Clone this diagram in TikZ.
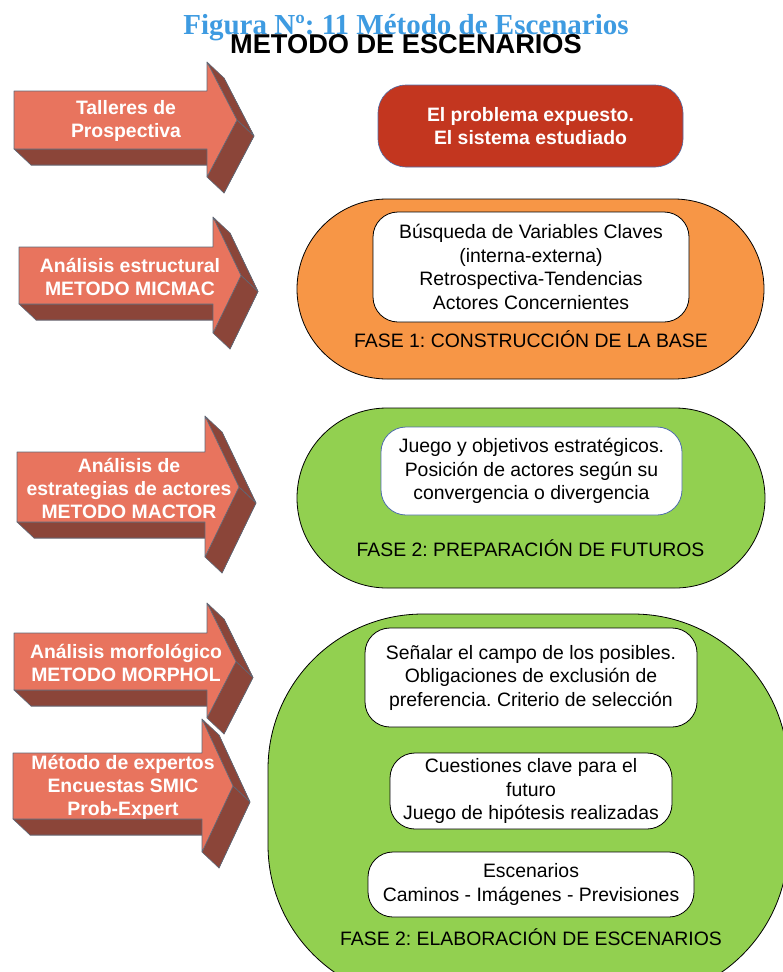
\documentclass[tikz,border=0pt]{standalone}
\usepackage{fontspec}
\setmainfont{Liberation Sans}
\newfontfamily\captionserif{Liberation Serif}
\frenchspacing

\definecolor{arrowred}{RGB}{232,116,94}
\definecolor{arrowdark}{RGB}{139,69,57}
\definecolor{edgegray}{RGB}{95,105,120}
\definecolor{probred}{RGB}{195,54,31}
\definecolor{faseorange}{RGB}{247,150,70}
\definecolor{fasegreen}{RGB}{146,208,80}
\definecolor{titleblue}{RGB}{62,155,225}
\definecolor{boxblue}{RGB}{79,110,170}

% 3D block arrow: left x, body top, body bottom, head x, head top, head bottom, tip x
\newcommand{\proarrow}[7]{%
  \pgfmathsetmacro{\tipy}{(#2+#3)/2}
  \filldraw[side] ({#1+17},{#2+16}) -- ({#4+17},{#2+16}) -- ({#4+17},{#5+16}) -- ({#7+17},{\tipy+16})
    -- ({#4+17},{#6+16}) -- ({#4+17},{#3+16}) -- ({#1+17},{#3+16}) -- cycle;
  \filldraw[side] (#1,#3) -- (#4,#3) -- ({#4+17},{#3+16}) -- ({#1+17},{#3+16}) -- cycle;
  \filldraw[side] (#4,#5) -- (#7,\tipy) -- ({#7+17},{\tipy+16}) -- ({#4+17},{#5+16}) -- cycle;
  \filldraw[side] (#4,#6) -- (#7,\tipy) -- ({#7+17},{\tipy+16}) -- ({#4+17},{#6+16}) -- cycle;
  \filldraw[front] (#1,#2) -- (#4,#2) -- (#4,#5) -- (#7,\tipy) -- (#4,#6) -- (#4,#3) -- (#1,#3) -- cycle;
}

\begin{document}
\begin{tikzpicture}[x=1pt,y=-1pt,
    side/.style={fill=arrowdark,draw=edgegray,line width=0.6pt,line join=round},
    front/.style={fill=arrowred,draw=edgegray,line width=0.6pt,line join=round},
    phase/.style={draw=black,line width=0.8pt},
    every node/.style={font=\fontsize{19.4}{23.5}\selectfont,align=center,inner sep=0pt}]
  \useasboundingbox (0,0) rectangle (782,972);

  % titles
  \node[anchor=base,text=titleblue,font=\captionserif\bfseries\fontsize{29}{32}\selectfont] (figura) at (406,34) {Figura Nº: 11 Método de Escenarios};
  \node[anchor=base,font=\bfseries\fontsize{27.2}{30}\selectfont] (metodo) at (406,53) {METODO DE ESCENARIOS};

  % phases
  \filldraw[phase,fill=faseorange,rounded corners=90pt] (297,199) rectangle (764,379);
  \filldraw[phase,fill=fasegreen,rounded corners=90pt] (297,408) rectangle (765,588);
  \filldraw[phase,fill=fasegreen,rounded corners=155pt] (268,614) rectangle (788,1000);

  % methods
  \proarrow{14}{91}{149}{207}{62}{177}{237}
  \proarrow{19}{247}{304}{213}{217}{333}{241}
  \proarrow{17}{452}{522}{205}{416}{557}{239}
  \proarrow{14}{633}{690}{207}{603}{718}{236}
  \proarrow{13}{753}{819}{202}{719}{852}{233}

  \begin{scope}[every node/.style={font=\bfseries\fontsize{19.4}{23}\selectfont,text=white,align=center,inner sep=0pt}]
    \node (talleres) at (126,121) {Talleres de\\Prospectiva};
    \node (micmac) at (130,277) {Análisis estructural\\METODO MICMAC};
    \node (mactor) at (129,488) {Análisis de\\estrategias de actores\\METODO MACTOR};
    \node (morphol) at (126,663) {Análisis morfológico\\METODO MORPHOL};
    \node (expertos) at (123,787) {Método de expertos\\Encuestas SMIC\\Prob-Expert};
    \node[fill=probred,draw=boxblue,line width=0.6pt,rounded corners=28pt,minimum width=305pt,minimum height=82pt] (problema) at (530.5,126) {El problema expuesto.\\El sistema estudiado};
  \end{scope}

  \begin{scope}[every node/.style={fill=white,draw=black,line width=0.8pt,rounded corners=25pt,align=center,inner sep=0pt,font=\fontsize{19.4}{23.5}\selectfont}]
    \node[minimum width=316pt,minimum height=110pt] (claves) at (531,267) {Búsqueda de Variables Claves\\(interna-externa)\\Retrospectiva-Tendencias\\Actores Concernientes};
    \node[draw=boxblue,minimum width=301pt,minimum height=88pt] (juego) at (531.5,471) {Juego y objetivos estratégicos.\\Posición de actores según su\\convergencia o divergencia};
    \node[minimum width=332pt,minimum height=99pt] (posibles) at (531,677.5) {Señalar el campo de los posibles.\\Obligaciones de exclusión de\\preferencia. Criterio de selección};
    \node[minimum width=282pt,minimum height=76pt] (cuestiones) at (531,791) {Cuestiones clave para el\\futuro\\Juego de hipótesis realizadas};
    \node[minimum width=326pt,minimum height=65pt] (escenarios) at (531,884.5) {Escenarios\\Caminos - Imágenes - Previsiones};
  \end{scope}

  \node (fase1) at (531,339) {FASE 1: CONSTRUCCIÓN DE LA BASE};
  \node (fase2) at (530.5,548) {FASE 2: PREPARACIÓN DE FUTUROS};
  \node (fase3) at (531,937) {FASE 2: ELABORACIÓN DE ESCENARIOS};
\end{tikzpicture}
\end{document}
